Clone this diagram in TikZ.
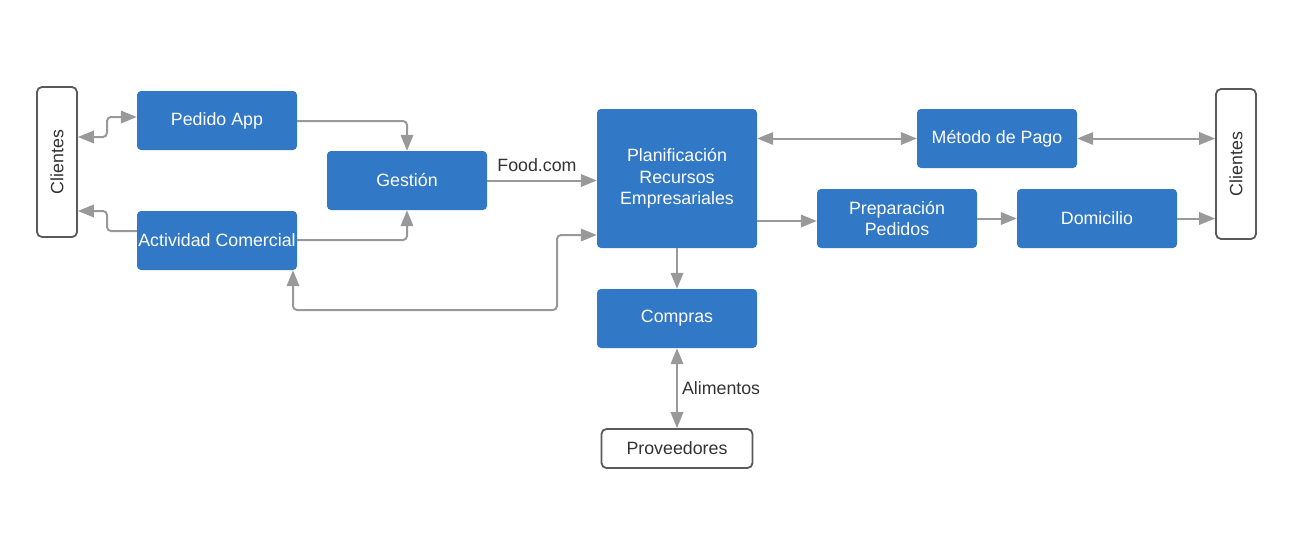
\documentclass[tikz,border=0pt]{standalone}
\usepackage{fontspec}
\setmainfont{Liberation Sans}
\usetikzlibrary{arrows.meta}
\definecolor{boxblue}{HTML}{3178C6}
\definecolor{linegray}{HTML}{999999}
\definecolor{edgegray}{HTML}{5A5A5A}
\definecolor{textgray}{HTML}{333333}
\tikzset{
  bluebox/.style={fill=boxblue, rounded corners=4pt, text=white, align=center,
    minimum width=160pt, minimum height=59pt, inner sep=0pt},
  whitebox/.style={draw=edgegray, line width=1.8pt, fill=white, rounded corners=5pt,
    text=textgray, align=center, inner sep=0pt},
  link/.style={draw=linegray, line width=2pt, rounded corners=4pt,
    >={Triangle[length=16pt,width=12.5pt]}},
  lbl/.style={text=textgray, inner sep=2pt}
}
\begin{document}
\begin{tikzpicture}[x=1pt, y=-1pt, font=\fontsize{17.8}{21.5}\selectfont]
      \useasboundingbox (0,0) rectangle (1294,557);
      \node [whitebox, minimum width=40pt, minimum height=150pt] (cliL) at (57,162) {\rotatebox{90}{Clientes}};
      \node [bluebox] (pedido) at (217,120.5) {Pedido App};
      \node [bluebox] (actividad) at (217,240.5) {Actividad Comercial};
      \node [bluebox] (gestion) at (407,180.5) {Gestión};
      \node [bluebox, minimum height=139pt] (plan) at (677,178.5) {Planificación\\Recursos\\Empresariales};
      \node [bluebox] (metodo) at (997,138.5) {Método de Pago};
      \node [bluebox] (prep) at (897,218.5) {Preparación\\Pedidos};
      \node [bluebox] (domic) at (1097,218.5) {Domicilio};
      \node [whitebox, minimum width=40pt, minimum height=150pt] (cliR) at (1236,164) {\rotatebox{90}{Clientes}};
      \node [bluebox] (compras) at (677,318.5) {Compras};
      \node [whitebox, minimum width=151pt, minimum height=39pt] (prov) at (677,448.5) {Proveedores};
      \draw [link, <->] (cliL.east |- 0,137) -- (107,137) -- (107,117) -- (pedido.west |- 0,117);
      \draw [link, ->] (actividad.west |- 0,231) -- (107,231) -- (107,211) -- (cliL.east |- 0,211);
      \draw [link, ->] (pedido.east |- 0,121) -| (gestion.north);
      \draw [link, ->] (actividad.east |- 0,240) -| (gestion.south);
      \draw [link, ->] (gestion.east) -- (plan.west |- gestion.east) node [lbl, midway, above, xshift=-5pt, yshift=6pt] {Food.com};
      \draw [link, <->] (actividad.south -| 293,0) -- (293,310) -- (557,310) -- (557,235) -- (plan.west |- 0,235);
      \draw [link, <->] (plan.east |- metodo.west) -- (metodo.west);
      \draw [link, <->] (metodo.east) -- (cliR.west |- metodo.east);
      \draw [link, ->] (plan.east |- 0,221) -- (prep.west |- 0,221);
      \draw [link, ->] (prep.east) -- (domic.west);
      \draw [link, ->] (domic.east) -- (cliR.west |- domic.east);
      \draw [link, ->] (plan.south) -- (compras.north);
      \draw [link, <->] (compras.south) -- (prov.north) node [lbl, midway, right, xshift=2pt] {Alimentos};
    \end{tikzpicture}
\end{document}
